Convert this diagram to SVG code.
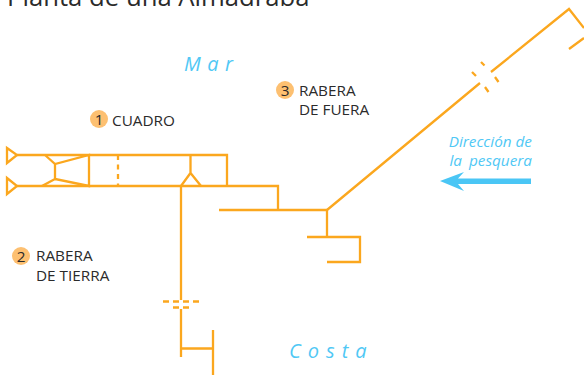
<svg xmlns="http://www.w3.org/2000/svg" width="584" height="375" viewBox="0 0 584 375">
<style>
.l{fill:none;stroke:#FBA71E;stroke-width:2.300}
.t{font-family:"Open Sans","Noto Sans",sans-serif;fill:#2b2b2b;font-size:15.300px}
.b{font-family:"Open Sans","Noto Sans",sans-serif;fill:#50C8F5;font-style:italic}
.c{fill:#FDC071}
</style>
<rect width="584" height="375" fill="#fff"/>
<text id="title" x="7" y="6" class="t" style="font-size:25.700px">Planta de una Almadraba</text>
<g id="connectors">
<path class="l" d="M17 155H227V186M17 186H278V210M219 210H327V237M307 237H360V262H327"/>
<path class="l" d="M45 155L55 164L89 155V186L55 179V164M42 186L55 179"/>
<path class="l" d="M118 155V186" stroke-dasharray="5 4.500"/>
<path class="l" d="M190.500 155V173M181 186L190.500 173L201 186"/>
<path class="l" d="M181 186V300M181 309V357M181 348.500H213M213 330V375"/>
<path class="l" d="M163 301.500H200" stroke-dasharray="6 4"/>
<path class="l" d="M173 307.500H189" stroke-dasharray="6 4"/>
<path class="l" d="M327 210L480 83M491 72L569 9L584 28M569 49L584 38"/>
<path class="l" d="M472 72L476 76M481 62L484.500 65.500M495 77L498.500 82M485 87L488.500 92"/>
<path class="l" d="M7 148L17 155L7 163ZM7 178L17 186L7 194Z" stroke-width="3"/>
</g>
<g id="arrow"><path d="M531 178.500H458L464 172L440 181L464 191L458 184H531Z" fill="#4AC6F5"/></g>
<g id="node1"><circle class="c" cx="99" cy="119" r="9"/><text x="99" y="124.500" class="t" text-anchor="middle">1</text><text x="112" y="126" class="t">CUADRO</text></g>
<g id="node2"><circle class="c" cx="21" cy="256" r="9"/><text x="21" y="261.500" class="t" text-anchor="middle">2</text><text x="36" y="261" class="t">RABERA</text><text x="36" y="281" class="t">DE TIERRA</text></g>
<g id="node3"><circle class="c" cx="285" cy="90" r="9"/><text x="285" y="95.500" class="t" text-anchor="middle">3</text><text x="299" y="96" class="t">RABERA</text><text x="299" y="115" class="t">DE FUERA</text></g>
<text id="mar" x="184" y="71" class="b" font-size="20" letter-spacing="6.500">Mar</text>
<text id="costa" x="289" y="358" class="b" font-size="20" letter-spacing="7">Costa</text>
<text id="dir1" x="532" y="147" class="b" font-size="15.300" text-anchor="end">Dirección de</text>
<text id="dir2" x="532" y="166" class="b" font-size="15.300" text-anchor="end" word-spacing="3">la pesquera</text>
</svg>
